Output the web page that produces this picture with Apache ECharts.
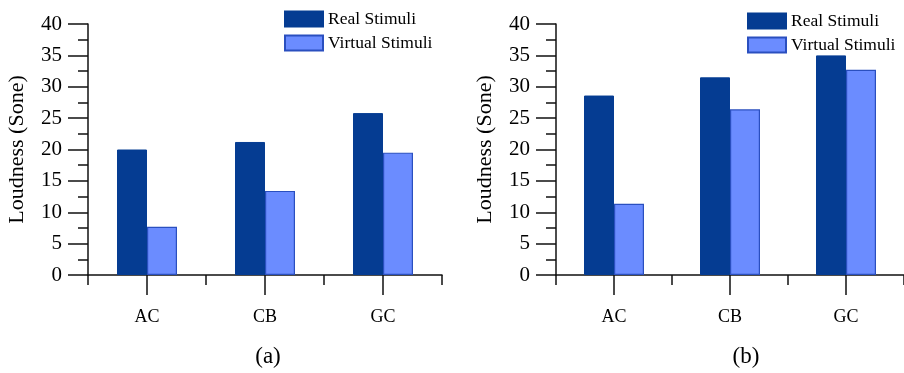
<!DOCTYPE html>
<html>
<head>
<meta charset="utf-8">
<script src="https://cdn.jsdelivr.net/npm/echarts@6/dist/echarts.min.js"></script>
<style>html,body{margin:0;padding:0;background:#fff}#c{width:904px;height:373px}</style>
</head>
<body>
<div id="c"></div>
<script>
const categories = ['AC', 'CB', 'GC'];
const seriesNames = ['Real Stimuli', 'Virtual Stimuli'];
const realA = [20.0, 21.2, 25.8];
const virtualA = [7.7, 13.4, 19.5];
const realB = [28.6, 31.5, 35.0];
const virtualB = [11.35, 26.4, 32.7];
const panelLabels = ['(a)', '(b)'];
const yTicks = { min: 0, max: 40, interval: 5 };

const FONT = '"Liberation Serif", "Times New Roman", serif';
const DARK = '#053C92';
const LIGHT = '#6B8CFF';
const EDGE = '#2A4FBF';
const AXIS = '#111';
const TXT = '#000';

const grids = [
  { left: 88, top: 24, width: 354, height: 251 },
  { left: 556, top: 24, width: 352, height: 251 }
];

function yAxis(gi) {
  return {
    type: 'value', gridIndex: gi, min: yTicks.min, max: yTicks.max, interval: yTicks.interval,
    name: 'Loudness (Sone)', nameLocation: 'middle', nameGap: 60, nameRotate: 90,
    nameTextStyle: { fontFamily: FONT, fontSize: 22, color: TXT },
    axisLine: { show: true, lineStyle: { color: AXIS, width: 1.5 } },
    axisTick: { show: true, inside: false, length: 20, lineStyle: { color: AXIS, width: 1.5 } },
    minorTick: { show: true, splitNumber: 2, length: 10, lineStyle: { color: AXIS, width: 1.5 } },
    splitLine: { show: false },
    axisLabel: { fontFamily: FONT, fontSize: 21, color: TXT, margin: 26 }
  };
}
function xAxes(gi) {
  return [
    {
      type: 'category', gridIndex: gi, data: categories, position: 'bottom',
      axisLine: { show: true, lineStyle: { color: AXIS, width: 1.5 } },
      axisTick: { show: true, alignWithLabel: false, length: 10, lineStyle: { color: AXIS, width: 1.5 } },
      axisLabel: { show: false }
    },
    {
      type: 'category', gridIndex: gi, data: categories, position: 'bottom',
      axisLine: { show: false },
      axisTick: { show: true, alignWithLabel: true, length: 20, lineStyle: { color: AXIS, width: 1.5 } },
      axisLabel: { fontFamily: FONT, fontSize: 18, color: TXT, margin: 33 }
    }
  ];
}
function bars(gi, real, virt) {
  const xi = gi * 2 + 1;
  return [
    { name: seriesNames[0], type: 'bar', xAxisIndex: xi, yAxisIndex: gi, data: real, barWidth: 30, barGap: '0%',
      itemStyle: { color: DARK, borderColor: DARK, borderWidth: 1 } },
    { name: seriesNames[1], type: 'bar', xAxisIndex: xi, yAxisIndex: gi, data: virt, barWidth: 30, barGap: '0%',
      itemStyle: { color: LIGHT, borderColor: EDGE, borderWidth: 1.2 } }
  ];
}
function legend(left, top) {
  return {
    orient: 'vertical', left: left, top: top, itemWidth: 38, itemHeight: 15, itemGap: 6,
    icon: 'rect', data: seriesNames,
    textStyle: { fontFamily: FONT, fontSize: 17.5, color: TXT, lineHeight: 15 }
  };
}

const chart = echarts.init(document.getElementById('c'), null, { renderer: 'canvas' });
chart.setOption({
  animation: false,
  backgroundColor: '#fff',
  title: [
    { text: panelLabels[0], left: 263, top: 340, textAlign: 'center',
      textStyle: { fontFamily: FONT, fontSize: 23, fontWeight: 'normal', color: TXT } },
    { text: panelLabels[1], left: 741, top: 340, textAlign: 'center',
      textStyle: { fontFamily: FONT, fontSize: 23, fontWeight: 'normal', color: TXT } }
  ],
  legend: [legend(279, 5), legend(742, 7)],
  grid: grids,
  xAxis: [...xAxes(0), ...xAxes(1)],
  yAxis: [yAxis(0), yAxis(1)],
  series: [...bars(0, realA, virtualA), ...bars(1, realB, virtualB)]
});
</script>
</body>
</html>
